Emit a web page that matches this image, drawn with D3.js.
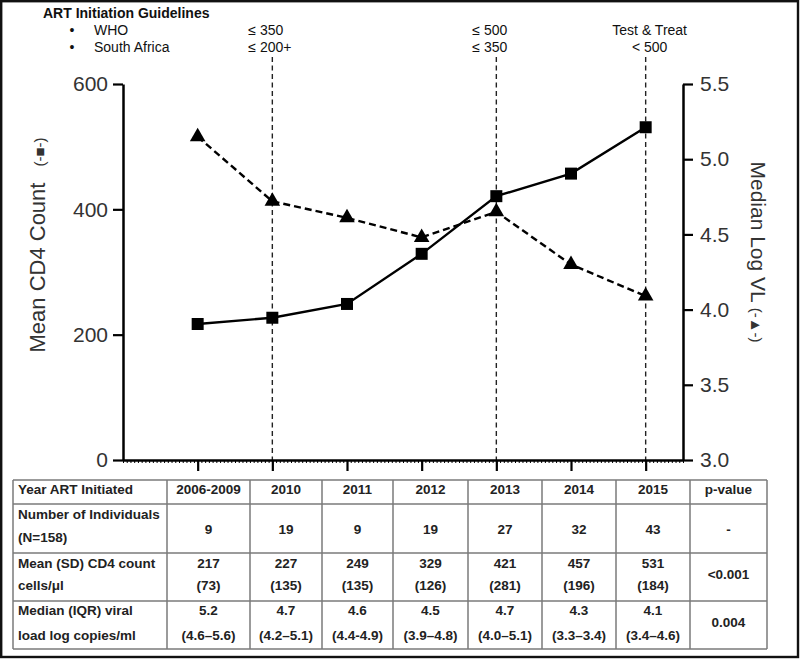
<!DOCTYPE html>
<html>
<head>
<meta charset="utf-8">
<script src="https://cdn.jsdelivr.net/npm/d3@7"></script>
<style>
  html, body { margin: 0; padding: 0; background: #fff; }
  svg { display: block; font-family: "Liberation Sans", Arial, sans-serif; }
</style>
</head>
<body>
<svg id="chart" width="800" height="659"></svg>
<script>
// ---------------- DATA ----------------
const categories = ["2006-2009", "2010", "2011", "2012", "2013", "2014", "2015"];
const cd4Mean = [217, 227, 249, 329, 421, 457, 531];
const vlMedianPlotted = [5.15, 4.72, 4.61, 4.48, 4.65, 4.30, 4.09];
const cd4Ticks = [0, 200, 400, 600];
const vlTicks = [3.0, 3.5, 4.0, 4.5, 5.0, 5.5];

const guidelineYears = ["2010", "2013", "2015"];
const whoGuideline = ["≤ 350", "≤ 500", "Test & Treat"];
const saGuideline = ["≤ 200+", "≤ 350", "< 500"];

const nIndividuals = ["9", "19", "9", "19", "27", "32", "43"];
const cd4MeanText = ["217", "227", "249", "329", "421", "457", "531"];
const cd4SD = ["(73)", "(135)", "(135)", "(126)", "(281)", "(196)", "(184)"];
const vlMedianText = ["5.2", "4.7", "4.6", "4.5", "4.7", "4.3", "4.1"];
const vlIQR = ["(4.6–5.6)", "(4.2–5.1)", "(4.4-4.9)", "(3.9–4.8)", "(4.0–5.1)", "(3.3–3.4)", "(3.4–4.6)"];
const pValues = ["-", "<0.001", "0.004"];

// ---------------- LAYOUT ----------------
const svg = d3.select("#chart");
const axisLeftX = 123, axisRightX = 683, yTop = 84, yBottom = 460;

const xLin = d3.scaleLinear().domain([-1, 6.5]).range([axisLeftX, axisRightX]);
const xCat = c => xLin(categories.indexOf(c));
const yCD4 = d3.scaleLinear().domain([0, 600]).range([yBottom, yTop]);
const yVL = d3.scaleLinear().domain([3.0, 5.5]).range([yBottom, yTop]);

const textCol = "#333";

// outer frame
svg.append("rect").attr("x", 1.2).attr("y", 1.2).attr("width", 796.8).attr("height", 655.8)
  .attr("fill", "none").attr("stroke", "#111").attr("stroke-width", 2.4);

// guideline header
const hdr = svg.append("g").attr("fill", "#111").attr("font-size", 14);
hdr.append("text").attr("x", 43).attr("y", 18).attr("font-weight", "bold").text("ART Initiation Guidelines");
hdr.append("text").attr("x", 72).attr("y", 35).attr("text-anchor", "middle").text("•");
hdr.append("text").attr("x", 72).attr("y", 52).attr("text-anchor", "middle").text("•");
hdr.append("text").attr("x", 94).attr("y", 35).text("WHO");
hdr.append("text").attr("x", 94).attr("y", 52).text("South Africa");
guidelineYears.forEach((yr, i) => {
  const x = xCat(yr);
  const isLe = whoGuideline[i].startsWith("≤");
  hdr.append("text").attr("x", isLe ? x - 24 : x + 4).attr("y", 35)
    .attr("text-anchor", isLe ? "start" : "middle").text(whoGuideline[i]);
  const isLe2 = saGuideline[i].startsWith("≤");
  hdr.append("text").attr("x", isLe2 ? x - 24 : x + 4).attr("y", 52)
    .attr("text-anchor", isLe2 ? "start" : "middle").text(saGuideline[i]);
});

// vertical guideline dashed lines
svg.append("g").selectAll("line").data(guidelineYears).join("line")
  .attr("x1", d => xCat(d)).attr("x2", d => xCat(d))
  .attr("y1", 57).attr("y2", yBottom)
  .attr("stroke", "#222").attr("stroke-width", 1.4).attr("stroke-dasharray", "5,3.5");

// axes
function styleAxis(g, fs) {
  g.selectAll(".domain").attr("stroke", "#000").attr("stroke-width", 2.5);
  g.selectAll(".tick line").attr("stroke", "#000").attr("stroke-width", 2.2);
  g.selectAll(".tick text").attr("fill", textCol).attr("font-size", fs)
    .attr("font-family", "'Liberation Sans', Arial, sans-serif");
}
const gL = svg.append("g").attr("transform", `translate(${axisLeftX},0)`)
  .call(d3.axisLeft(yCD4).tickValues(cd4Ticks).tickSize(10).tickSizeOuter(0).tickPadding(5).tickFormat(d3.format("d")));
styleAxis(gL, 21);
const gR = svg.append("g").attr("transform", `translate(${axisRightX},0)`)
  .call(d3.axisRight(yVL).tickValues(vlTicks).tickSize(10).tickSizeOuter(0).tickPadding(7).tickFormat(d3.format(".1f")));
styleAxis(gR, 21);

// x axis minor ticks
const gXm = svg.append("g").attr("transform", `translate(0,${yBottom})`)
  .call(d3.axisBottom(xLin).tickValues(d3.range(-1, 6.5001, 0.05)).tickSize(3).tickSizeOuter(0).tickFormat(""));
gXm.selectAll(".domain").remove();
gXm.selectAll(".tick line").attr("stroke", "#000").attr("stroke-width", 1);
// x axis major
const gX = svg.append("g").attr("transform", `translate(0,${yBottom})`)
  .call(d3.axisBottom(xLin).tickValues(d3.range(categories.length)).tickSize(11).tickSizeOuter(0).tickFormat(""));
styleAxis(gX, 12);

// axis titles
const lt = svg.append("text").attr("transform", "translate(45,245) rotate(-90)")
  .attr("text-anchor", "middle").attr("fill", textCol).attr("font-size", 22);
lt.append("tspan").text("Mean CD4 Count");
lt.append("tspan").attr("dx", 16).attr("font-size", 15).text("(-■-)");

const rt = svg.append("text").attr("transform", "translate(751,252) rotate(90)")
  .attr("text-anchor", "middle").attr("fill", textCol).attr("font-size", 21);
rt.append("tspan").text("Median Log VL");
rt.append("tspan").attr("dx", 5).attr("font-size", 15).text("(-▲-)");

// series lines
const lineCD4 = d3.line().x((d, i) => xLin(i)).y(d => yCD4(d));
const lineVL = d3.line().x((d, i) => xLin(i)).y(d => yVL(d));
svg.append("path").datum(vlMedianPlotted).attr("d", lineVL)
  .attr("fill", "none").attr("stroke", "#000").attr("stroke-width", 2.4).attr("stroke-dasharray", "7,4");
svg.append("path").datum(cd4Mean).attr("d", lineCD4)
  .attr("fill", "none").attr("stroke", "#000").attr("stroke-width", 2.4);

// markers
svg.append("g").selectAll("path").data(vlMedianPlotted).join("path")
  .attr("transform", (d, i) => `translate(${xLin(i)},${yVL(d)})`)
  .attr("d", d3.symbol(d3.symbolTriangle, 105)).attr("fill", "#000");
svg.append("g").selectAll("path").data(cd4Mean).join("path")
  .attr("transform", (d, i) => `translate(${xLin(i)},${yCD4(d)})`)
  .attr("d", d3.symbol(d3.symbolSquare, 144)).attr("fill", "#000");

// ---------------- TABLE ----------------
const colEdges = [13, 167, 250, 322, 393, 468, 542, 616, 690, 767];
const rowEdges = [480, 504, 553, 601, 649];
const tbl = svg.append("g");
const tableStroke = "#7a7a7a";
rowEdges.forEach(y => tbl.append("line").attr("x1", colEdges[0]).attr("x2", colEdges[colEdges.length - 1])
  .attr("y1", y).attr("y2", y).attr("stroke", tableStroke).attr("stroke-width", 1.5));
colEdges.forEach(x => tbl.append("line").attr("x1", x).attr("x2", x)
  .attr("y1", rowEdges[0]).attr("y2", rowEdges[rowEdges.length - 1]).attr("stroke", tableStroke).attr("stroke-width", 1.5));

const tt = tbl.append("g").attr("font-size", 13.5).attr("font-weight", "bold").attr("fill", "#222");
const colCenter = i => (colEdges[i] + colEdges[i + 1]) / 2;
// row labels
tt.append("text").attr("x", 18).attr("y", 494).text("Year ART Initiated");
tt.append("text").attr("x", 18).attr("y", 519).text("Number of Individuals");
tt.append("text").attr("x", 18).attr("y", 542).text("(N=158)");
tt.append("text").attr("x", 18).attr("y", 567.5).text("Mean (SD) CD4 count");
tt.append("text").attr("x", 18).attr("y", 590).text("cells/μl");
tt.append("text").attr("x", 18).attr("y", 615).text("Median (IQR) viral");
tt.append("text").attr("x", 18).attr("y", 640).text("load log copies/ml");

categories.forEach((c, i) => {
  const x = colCenter(i + 1);
  tt.append("text").attr("x", x).attr("y", 494).attr("text-anchor", "middle").text(c);
  tt.append("text").attr("x", x).attr("y", 534).attr("text-anchor", "middle").text(nIndividuals[i]);
  tt.append("text").attr("x", x).attr("y", 567.5).attr("text-anchor", "middle").text(cd4MeanText[i]);
  tt.append("text").attr("x", x).attr("y", 590).attr("text-anchor", "middle").text(cd4SD[i]);
  tt.append("text").attr("x", x).attr("y", 615).attr("text-anchor", "middle").text(vlMedianText[i]);
  tt.append("text").attr("x", x).attr("y", 640).attr("text-anchor", "middle").text(vlIQR[i]);
});
const pc = colCenter(colEdges.length - 2);
tt.append("text").attr("x", pc).attr("y", 494).attr("text-anchor", "middle").text("p-value");
tt.append("text").attr("x", pc).attr("y", 534).attr("text-anchor", "middle").text(pValues[0]);
tt.append("text").attr("x", pc).attr("y", 579).attr("text-anchor", "middle").text(pValues[1]);
tt.append("text").attr("x", pc).attr("y", 627).attr("text-anchor", "middle").text(pValues[2]);
</script>
</body>
</html>
